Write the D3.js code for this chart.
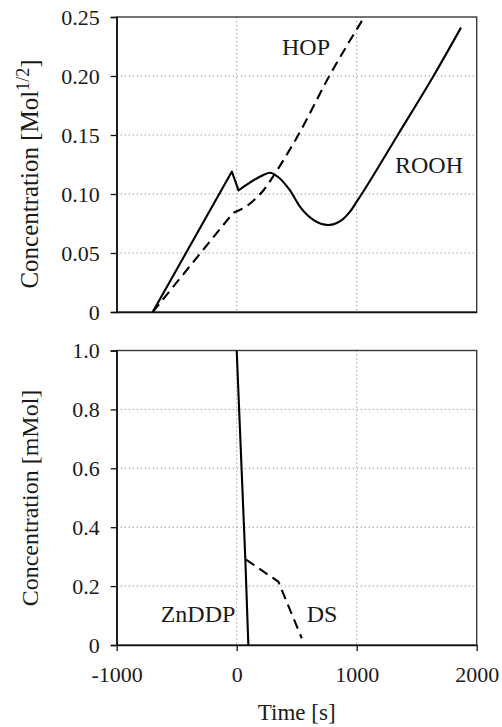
<!DOCTYPE html>
<html>
<head>
<meta charset="utf-8">
<script src="https://cdnjs.cloudflare.com/ajax/libs/d3/7.8.5/d3.min.js"></script>
<style>
body { margin: 0; background: #fff; }
text { font-family: "Liberation Serif", "DejaVu Serif", "Times New Roman", serif; fill: #1a1a1a; }
</style>
</head>
<body>
<div id="chart"></div>
<script>

// values
var timeTicks = [-1000, 0, 1000, 2000];
var timeTickLabels = ["-1000", "0", "1000", "2000"];

var topTicks = [0, 0.05, 0.10, 0.15, 0.20, 0.25];
var topTickLabels = ["0", "0.05", "0.10", "0.15", "0.20", "0.25"];
var bottomTicks = [0, 0.2, 0.4, 0.6, 0.8, 1.0];
var bottomTickLabels = ["0", "0.2", "0.4", "0.6", "0.8", "1.0"];

var roohTime = [-700, -40, 15, 100, 200, 278, 350, 444, 527, 639, 763, 830, 890, 944, 1000, 1042, 1342, 1640, 1869];
var roohConc = [0, 0.119, 0.103, 0.109, 0.115, 0.118, 0.114, 0.103, 0.0893, 0.078, 0.0737, 0.0752, 0.079, 0.085, 0.0935, 0.100, 0.150, 0.200, 0.241];

var hopTime = [-700, -30, 100, 167, 222, 320, 513, 772, 1063];
var hopConc = [0, 0.084, 0.091, 0.097, 0.103, 0.1175, 0.150, 0.200, 0.250];

var znddpTime = [0, 72, 97];
var znddpConc = [1.0, 0.29, 0];

var dsTime = [78, 347, 542];
var dsConc = [0.29, 0.215, 0.023];

function drawChart(){
    var svg = d3.select("#chart").append("svg")
        .attr("width", 502)
        .attr("height", 727);

    var x = d3.scaleLinear().domain([-1000, 2000]).range([116.7, 476.7]);
    var yTop = d3.scaleLinear().domain([0, 0.25]).range([312, 17]);
    var yBot = d3.scaleLinear().domain([0, 1]).range([645, 350.5]);

    function panel(name, y, ticks, labels, showTime){
        var g = svg.append("g");
        var top = y.range()[1], bottom = y.range()[0];

        svg.append("clipPath").attr("id", "clip-" + name)
            .append("rect")
            .attr("x", x.range()[0]).attr("y", top)
            .attr("width", x.range()[1] - x.range()[0])
            .attr("height", bottom - top);

        // dotted grid
        g.selectAll(".hgrid")
            .data(ticks.slice(1, -1))
            .enter().append("line")
            .attr("x1", x.range()[0]).attr("x2", x.range()[1])
            .attr("y1", function(d){ return y(d); })
            .attr("y2", function(d){ return y(d); })
            .attr("stroke", "#8a8a8a")
            .attr("stroke-width", 1)
            .attr("stroke-dasharray", "1.2,2.8");

        g.selectAll(".vgrid")
            .data(timeTicks.slice(1, -1))
            .enter().append("line")
            .attr("x1", function(d){ return x(d); })
            .attr("x2", function(d){ return x(d); })
            .attr("y1", top).attr("y2", bottom)
            .attr("stroke", "#8a8a8a")
            .attr("stroke-width", 1)
            .attr("stroke-dasharray", "1.2,2.8");

        // frame
        g.append("rect")
            .attr("x", x.range()[0]).attr("y", top)
            .attr("width", x.range()[1] - x.range()[0])
            .attr("height", bottom - top)
            .attr("fill", "none")
            .attr("stroke", "#3a3a3a")
            .attr("stroke-width", 1.4);

        var yAxis = g.append("g")
            .attr("transform", "translate(" + x.range()[0] + ",0)")
            .call(d3.axisLeft(y)
                .tickValues(ticks)
                .tickFormat(function(d, i){ return labels[i]; })
                .tickSize(6)
                .tickPadding(11));
        yAxis.attr("font-family", null);
        yAxis.select(".domain").attr("stroke", "#111").attr("stroke-width", 1.5);
        yAxis.selectAll(".tick line").attr("stroke", "#111").attr("stroke-width", 1.3);
        yAxis.selectAll("text")
            .attr("font-size", 22)
            .attr("fill", "#1a1a1a");

        var xAxis = g.append("g")
            .attr("transform", "translate(0," + bottom + ")")
            .call(d3.axisBottom(x)
                .tickValues(timeTicks)
                .tickFormat(function(d, i){ return showTime ? timeTickLabels[i] : ""; })
                .tickSize(showTime ? 6 : 0)
                .tickSizeOuter(0)
                .tickPadding(15));
        xAxis.attr("font-family", null);
        xAxis.select(".domain").attr("stroke", "#111").attr("stroke-width", 1.5);
        xAxis.selectAll(".tick line").attr("stroke", "#111").attr("stroke-width", 1.3);
        xAxis.selectAll("text")
            .attr("font-size", 22)
            .attr("fill", "#1a1a1a");

        return g;
    }

    // first k points straight, the rest smooth
    function curvePath(times, concs, y, k){
        var pts = times.map(function(t, i){ return [x(t), y(concs[i])]; });
        var lin = d3.line();
        if (!k) return lin(pts);
        var smooth = d3.line().curve(d3.curveMonotoneX);
        var rest = smooth(pts.slice(k)).replace(/^M[^CLZ]*/, "");
        return lin(pts.slice(0, k + 1)) + rest;
    }

    function series(g, name, d, dashed){
        g.append("path")
            .attr("d", d)
            .attr("clip-path", "url(#clip-" + name + ")")
            .attr("fill", "none")
            .attr("stroke", "#000")
            .attr("stroke-width", 2.1)
            .attr("stroke-linejoin", "round")
            .attr("stroke-dasharray", dashed ? "10,6" : null);
    }

    var gTop = panel("top", yTop, topTicks, topTickLabels, false);
    series(gTop, "top", curvePath(hopTime, hopConc, yTop, 1), true);
    series(gTop, "top", curvePath(roohTime, roohConc, yTop, 2), false);

    var gBot = panel("bot", yBot, bottomTicks, bottomTickLabels, true);
    series(gBot, "bot", curvePath(znddpTime, znddpConc, yBot, 0), false);
    series(gBot, "bot", curvePath(dsTime, dsConc, yBot, 0), true);

    // curve labels
    var notes = [
        {t: "HOP", x: 306, y: 55},
        {t: "ROOH", x: 429, y: 173},
        {t: "ZnDDP", x: 198, y: 622},
        {t: "DS", x: 322, y: 622}
    ];
    svg.selectAll(".note")
        .data(notes)
        .enter().append("text")
        .attr("x", function(d){ return d.x; })
        .attr("y", function(d){ return d.y; })
        .attr("text-anchor", "middle")
        .attr("font-size", 24)
        .text(function(d){ return d.t; });

    // axis titles
    var t1 = svg.append("text")
        .attr("transform", "translate(38,174) rotate(-90)")
        .attr("text-anchor", "middle")
        .attr("font-size", 25);
    t1.append("tspan").text("Concentration [Mol");
    t1.append("tspan").attr("dy", -9).attr("font-size", 18).text("1/2");
    t1.append("tspan").attr("dy", 9).text("]");

    svg.append("text")
        .attr("transform", "translate(38,498) rotate(-90)")
        .attr("text-anchor", "middle")
        .attr("font-size", 24)
        .text("Concentration [mMol]");

    svg.append("text")
        .attr("x", 296.7)
        .attr("y", 720)
        .attr("text-anchor", "middle")
        .attr("font-size", 23)
        .text("Time [s]");
}

drawChart()

</script>
</body>
</html>
